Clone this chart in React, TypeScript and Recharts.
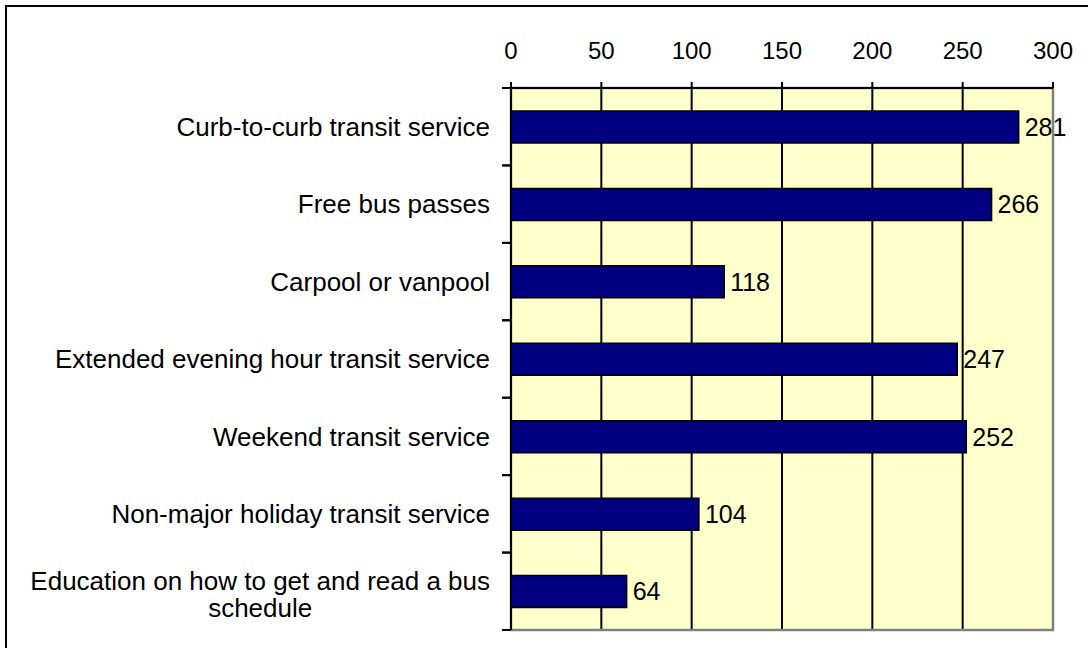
import { BarChart, Bar, XAxis, YAxis, CartesianGrid, LabelList, ReferenceArea } from "recharts";

const categories = [
  "Curb-to-curb transit service",
  "Free bus passes",
  "Carpool or vanpool",
  "Extended evening hour transit service",
  "Weekend transit service",
  "Non-major holiday transit service",
  "Education on how to get and read a bus schedule",
];
const responses = [281, 266, 118, 247, 252, 104, 64];
const xTicks = [0, 50, 100, 150, 200, 250, 300];

const data = categories.map((name, i) => ({ name, value: responses[i] }));

const FONT = '"Liberation Sans", Arial, sans-serif';
const LABEL_SIZE = 26;
const WRAP_WIDTH = 480;

let ctx: CanvasRenderingContext2D | null = null;
function measure(s: string) {
  if (!ctx) ctx = document.createElement("canvas").getContext("2d");
  if (!ctx) return s.length * LABEL_SIZE * 0.5;
  ctx.font = `${LABEL_SIZE}px ${FONT}`;
  return ctx.measureText(s).width;
}

function wrap(s: string) {
  const lines: string[] = [];
  let cur = "";
  for (const w of s.split(" ")) {
    const next = cur ? cur + " " + w : w;
    if (cur && measure(next) > WRAP_WIDTH) {
      lines.push(cur);
      cur = w;
    } else cur = next;
  }
  if (cur) lines.push(cur);
  return lines;
}

function CategoryTick(props: any) {
  const { x, y, payload } = props;
  const half = payload?.offset ?? 38.7;
  const lines = wrap(String(payload.value));
  const maxW = Math.max(...lines.map(measure));
  const cx = x - maxW / 2;
  const lh = 27;
  // multi-line labels sit a touch low in the original
  const startY = y - ((lines.length - 1) * lh) / 2 + (lines.length > 1 ? 3 : 0);
  return (
    <g>
      <line x1={x + 12} x2={x + 21} y1={y - half} y2={y - half} stroke="#000" strokeWidth={2} />
      <line x1={x + 12} x2={x + 21} y1={y + half} y2={y + half} stroke="#000" strokeWidth={2} />
      <text x={cx} y={startY} textAnchor="middle" fontSize={LABEL_SIZE} fontFamily={FONT} fill="#000">
        {lines.map((l, i) => (
          <tspan key={i} x={cx} y={startY + i * lh} dy="0.355em">
            {l}
          </tspan>
        ))}
      </text>
    </g>
  );
}

export default function App() {
  return (
    <div style={{ position: "fixed", left: 0, top: 0, width: 1088, height: 648, background: "#fff", overflow: "hidden" }}>
      <div
        style={{
          position: "absolute",
          left: 5,
          top: 5,
          width: 1100,
          height: 700,
          border: "2px solid #000",
          boxSizing: "border-box",
        }}
      />
      <div style={{ position: "absolute", left: 0, top: 0 }}>
        <BarChart
          width={1088}
          height={648}
          data={data}
          layout="vertical"
          margin={{ top: 0, right: 35, bottom: 18, left: 0 }}
          barCategoryGap="0%"
        >
          <CartesianGrid horizontal={false} stroke="#000" strokeWidth={2} fill="#FFFFCC" />
          <XAxis
            type="number"
            orientation="top"
            domain={[0, 300]}
            ticks={xTicks}
            height={88}
            tickSize={6}
            tickMargin={23}
            axisLine={{ stroke: "#000", strokeWidth: 2 }}
            tickLine={{ stroke: "#000", strokeWidth: 2 }}
            tick={{ fill: "#000", fontSize: 24, fontFamily: FONT }}
            allowDataOverflow
          />
          <YAxis
            type="category"
            dataKey="name"
            width={511}
            tickSize={0}
            tickMargin={21}
            tickLine={false}
            axisLine={{ stroke: "#000", strokeWidth: 2 }}
            tick={<CategoryTick />}
            interval={0}
          />
          <ReferenceArea x1={0} x2={300} fill="none" stroke="#808080" strokeWidth={2.5} ifOverflow="visible" />
          <Bar dataKey="value" fill="#000080" stroke="#000" strokeWidth={1.5} barSize={32} isAnimationActive={false}>
            <LabelList dataKey="value" position="right" offset={6} fill="#000" fontSize={25} fontFamily={FONT} />
          </Bar>
        </BarChart>
      </div>
    </div>
  );
}
